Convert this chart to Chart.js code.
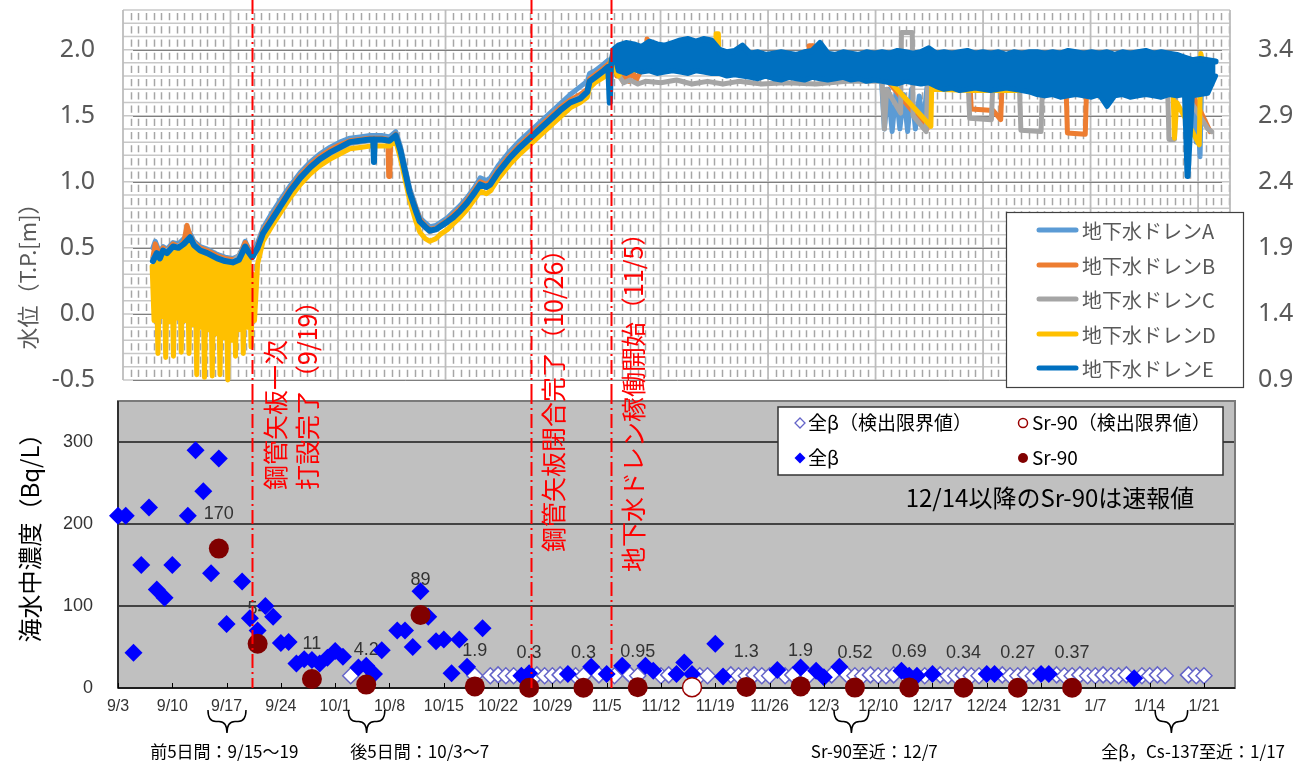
<!DOCTYPE html>
<html lang="ja"><head><meta charset="utf-8"><title>地下水ドレン水位と海水中濃度</title>
<script src="https://cdn.jsdelivr.net/npm/chart.js"></script>
<style>
html,body{margin:0;padding:0;background:#fff;}
#wrap{position:relative;width:1297px;height:766px;overflow:hidden;background:#fff;}
canvas{position:absolute;left:0;}
#cTop{top:0;width:1297px;height:390px;}
#cBot{top:390px;width:1297px;height:376px;}
.ev{position:absolute;color:#ff0000;font-family:"Noto Sans CJK JP",sans-serif;font-size:25px;line-height:25px;white-space:nowrap;transform-origin:0 0;transform:rotate(-90deg);}
</style></head><body>
<div id="wrap">
<canvas id="cTop" width="1297" height="390"></canvas>
<canvas id="cBot" width="1297" height="376"></canvas>
</div>
<script>
// ---------- axis labels ----------
const xTickLabels = ["9/3","9/10","9/17","9/24","10/1","10/8","10/15","10/22","10/29","11/5","11/12","11/19","11/26","12/3","12/10","12/17","12/24","12/31","1/7","1/14","1/21"];
const waterLeftTicks = [-0.5, 0, 0.5, 1.0, 1.5, 2.0];
const waterRightTicks = [0.9, 1.4, 1.9, 2.4, 2.9, 3.4];
const concTicks = [0, 100, 200, 300];

// ---------- water level series (day from 9/3, T.P. m) ----------
const drainNames = ["地下水ドレンA","地下水ドレンB","地下水ドレンC","地下水ドレンD","地下水ドレンE"];
const drainColors = ["#5B9BD5","#ED7D31","#A5A5A5","#FFC000","#0070C0"];

const drainA = [[4.5,0.50],[4.8,0.55],[5.4,0.46],[5.8,0.51],[6.3,0.49],[7.1,0.54],[7.8,0.53],[8.5,0.57],[9.3,0.61],[9.8,0.55],[10.6,0.51],[11.5,0.49],[12.8,0.45],[13.8,0.43],[14.8,0.42],[15.6,0.44],[16.0,0.49],[16.4,0.55],[16.8,0.50],[17.3,0.46],[18.0,0.54],[18.7,0.65],[19.8,0.76],[20.9,0.86],[22.2,0.97],[23.5,1.07],[24.8,1.15],[26.0,1.21],[27.3,1.26],[28.6,1.30],[29.9,1.33],[31.2,1.34],[32.5,1.35],[34.0,1.35],[35.0,1.34],[35.8,1.38],[36.4,1.27],[37.0,1.11],[37.6,0.95],[38.4,0.81],[38.9,0.73],[39.6,0.69],[40.2,0.66],[41.0,0.67],[41.5,0.69],[42.5,0.73],[43.2,0.77],[44.1,0.82],[45.0,0.88],[46.0,0.96],[46.7,1.03],[47.5,1.01],[48.0,1.03],[49.0,1.12],[50.5,1.23],[51.8,1.31],[53.1,1.38],[54.4,1.45],[55.7,1.52],[57.0,1.59],[58.3,1.66],[59.6,1.72],[60.5,1.76],[60.8,1.82],[61.5,1.84],[62.6,1.89],[63.2,1.92],[63.6,1.90],[64.1,1.98],[64.4,2.02],[64.8,1.90],[66,1.86],[70,1.87],[80,1.85],[90,1.84],[98.4,1.80],[98.8,1.40],[99.3,1.70],[99.8,1.38],[100.3,1.68],[100.8,1.40],[101.3,1.66],[101.8,1.38],[102.3,1.70],[102.8,1.40],[103.3,1.65],[103.8,1.42],[104.3,1.72],[104.6,1.82],[115,1.76],[125,1.75],[137.4,1.74],[137.9,1.62],[138.3,1.50],[138.6,1.62],[139.0,1.30],[139.2,1.50],[139.5,1.19],[139.7,1.78],[141.0,1.85]];

const drainB = [[4.5,0.43],[4.8,0.53],[5.4,0.44],[5.8,0.50],[6.3,0.47],[7.1,0.53],[7.8,0.51],[8.5,0.55],[8.9,0.67],[9.3,0.59],[9.8,0.54],[10.6,0.50],[11.5,0.48],[12.8,0.44],[13.8,0.42],[14.8,0.41],[15.6,0.43],[16.0,0.48],[16.4,0.54],[16.8,0.49],[17.3,0.45],[18.0,0.52],[18.7,0.63],[19.8,0.73],[20.9,0.83],[22.2,0.95],[23.5,1.05],[24.8,1.13],[26.0,1.19],[27.3,1.24],[28.6,1.28],[29.9,1.31],[31.2,1.32],[32.5,1.33],[34.0,1.33],[34.8,1.32],[34.9,1.04],[35.05,1.04],[35.15,1.32],[35.8,1.36],[36.4,1.25],[37.0,1.09],[37.6,0.93],[38.4,0.80],[38.9,0.72],[39.6,0.67],[40.2,0.64],[41.0,0.65],[41.5,0.67],[42.5,0.71],[43.2,0.75],[44.1,0.80],[45.0,0.86],[46.0,0.94],[46.7,1.00],[47.5,0.98],[48.0,1.00],[49.0,1.09],[50.5,1.20],[51.8,1.28],[53.1,1.35],[54.4,1.42],[55.7,1.49],[57.0,1.56],[58.3,1.62],[59.6,1.66],[60.5,1.70],[60.8,1.78],[61.5,1.81],[62.6,1.86],[63.2,1.89],[63.9,1.93],[64.3,1.80],[64.7,1.86],[65.1,1.76],[65.5,1.85],[65.9,1.76],[66.3,1.84],[66.8,1.77],[67.5,1.85],[68.1,1.85],[68.2,2.08],[68.4,2.06],[68.5,1.85],[75,1.85],[85,1.84],[89.0,1.84],[89.1,2.03],[89.5,2.03],[89.6,1.84],[98.5,1.82],[99.0,1.78],[104.3,1.40],[104.5,1.80],[109.8,1.78],[110.0,1.55],[112.8,1.54],[113.8,1.47],[114.0,1.78],[122.2,1.76],[122.4,1.37],[124.7,1.36],[124.9,1.76],[137.9,1.74],[140.8,1.38]];

const drainC = [[4.5,0.42],[5.8,0.47],[7.1,0.50],[8.5,0.53],[9.3,0.57],[10.6,0.48],[12.8,0.42],[14.8,0.39],[16.4,0.50],[17.3,0.43],[18.7,0.60],[20.9,0.80],[23.5,1.02],[26.0,1.16],[29.9,1.29],[32.5,1.31],[35.0,1.31],[35.8,1.34],[37.6,0.91],[38.9,0.69],[40.2,0.62],[42.5,0.69],[44.1,0.77],[46.7,0.97],[48.0,0.97],[50.5,1.17],[53.1,1.32],[55.7,1.46],[58.3,1.60],[60.5,1.67],[60.8,1.75],[62.6,1.84],[63.6,1.88],[64.2,1.95],[64.6,1.80],[65.2,1.75],[66,1.77],[67,1.74],[68,1.76],[70,1.75],[72,1.77],[74,1.74],[76,1.76],[78,1.74],[80,1.76],[83,1.74],[86,1.75],[90,1.74],[94,1.76],[98.5,1.76],[98.8,1.40],[99.1,1.70],[100.9,1.52],[101.0,2.13],[102.4,2.13],[102.5,1.50],[104.2,1.38],[104.4,1.76],[109.6,1.76],[109.8,1.48],[112.6,1.47],[112.8,1.76],[116.2,1.75],[116.4,1.39],[119.0,1.38],[119.2,1.75],[135.3,1.74],[135.5,1.32],[136.2,1.32],[136.4,1.72],[137.5,1.68],[140.5,1.40],[141.0,1.38]];

const drainD = [[4.4,0.36],[4.65,-0.05],[4.9,0.40],[5.15,-0.30],[5.4,0.42],[5.65,-0.02],[5.9,0.45],[6.15,-0.33],[6.4,0.44],[6.65,-0.06],[6.9,0.46],[7.15,-0.32],[7.4,0.47],[7.65,-0.03],[7.9,0.48],[8.15,-0.29],[8.4,0.50],[8.65,-0.05],[8.9,0.52],[9.15,-0.30],[9.4,0.54],[9.65,-0.08],[9.9,0.49],[10.15,-0.46],[10.4,0.46],[10.65,-0.10],[10.9,0.44],[11.15,-0.48],[11.4,0.43],[11.65,-0.12],[11.9,0.42],[12.15,-0.47],[12.4,0.41],[12.65,-0.15],[12.9,0.40],[13.15,-0.46],[13.4,0.39],[13.65,-0.18],[13.9,0.38],[14.15,-0.50],[14.4,0.37],[14.65,-0.20],[14.9,0.37],[15.15,-0.32],[15.4,0.38],[15.65,-0.12],[15.9,0.43],[16.15,-0.30],[16.4,0.47],[16.65,-0.10],[16.9,0.44],[17.15,-0.25],[17.4,0.30],[17.6,-0.05],[18.0,0.38],[18.7,0.55],[19.8,0.66],[20.9,0.76],[22.2,0.88],[23.5,0.98],[24.8,1.06],[26.0,1.12],[27.3,1.17],[28.6,1.21],[29.9,1.25],[31.2,1.26],[32.5,1.27],[34.0,1.27],[35.0,1.27],[35.8,1.31],[36.4,1.18],[37.0,1.02],[37.6,0.86],[38.4,0.70],[38.9,0.62],[39.6,0.57],[40.2,0.55],[41.0,0.57],[41.5,0.60],[42.5,0.64],[43.2,0.68],[44.1,0.73],[45.0,0.79],[46.0,0.87],[46.7,0.93],[47.5,0.91],[48.0,0.93],[49.0,1.02],[50.5,1.13],[51.8,1.21],[53.1,1.28],[54.4,1.35],[55.7,1.42],[57.0,1.49],[58.3,1.56],[59.6,1.60],[60.5,1.64],[60.8,1.71],[61.5,1.75],[62.6,1.79],[63.2,1.82],[63.6,1.93],[64.0,1.85],[64.5,1.80],[65,1.84],[70,1.85],[77.0,1.85],[77.1,2.12],[77.4,2.12],[77.5,1.85],[90,1.84],[98.8,1.80],[99.2,1.78],[104.8,1.42],[105.0,1.99],[105.2,1.70],[110,1.69],[117,1.69],[130,1.70],[136.0,1.72],[136.2,1.33],[136.5,1.60],[139.4,1.28],[139.6,1.97],[140.2,1.80],[141.0,1.85]];

const drainEEarly = [[4.5,0.40],[5.0,0.46],[5.4,0.42],[5.8,0.48],[6.3,0.46],[7.1,0.51],[7.8,0.50],[8.5,0.53],[9.3,0.58],[9.8,0.52],[10.6,0.48],[11.5,0.46],[12.8,0.42],[13.8,0.40],[14.8,0.39],[15.6,0.41],[16.0,0.46],[16.4,0.51],[16.8,0.47],[17.3,0.43],[18.0,0.50],[18.7,0.61],[19.8,0.71],[20.9,0.81],[22.2,0.93],[23.5,1.03],[24.8,1.11],[26.0,1.17],[27.3,1.22],[28.6,1.26],[29.9,1.30],[31.2,1.31],[32.5,1.32],[32.9,1.32],[33.0,1.15],[33.1,1.32],[34.0,1.32],[35.0,1.31],[35.8,1.35],[36.4,1.24],[37.0,1.08],[37.6,0.92],[38.4,0.78],[38.9,0.70],[39.6,0.66],[40.2,0.63],[41.0,0.64],[41.5,0.66],[42.5,0.70],[43.2,0.73],[44.1,0.78],[45.0,0.84],[46.0,0.92],[46.7,0.98],[47.5,0.96],[48.0,0.98],[49.0,1.07],[50.5,1.18],[51.8,1.26],[53.1,1.33],[54.4,1.40],[55.7,1.47],[57.0,1.54],[58.3,1.60],[59.6,1.63],[60.5,1.68],[60.8,1.76],[61.5,1.79],[62.6,1.84],[63.2,1.87],[63.4,1.60],[63.55,1.88],[63.9,2.00]];
const E_BAND_START = 64;
const drainEBandHigh = [2.03,2.05,2.04,2.02,2.06,2.04,2.03,2.05, 2.07,2.08,2.06,2.08,2.07, 2.00,1.98,1.99,2.03, 1.97,1.98,1.96,1.97,1.98,1.97,1.96,1.98,1.99,2.05,1.97,1.96,1.98,1.97,1.96,1.98,1.97, 1.98,1.97,1.99,1.98,1.97,1.98,2.01,1.97, 1.98,1.97,1.98,1.99,1.97,1.98,1.97,1.98,1.96,1.98,1.97,1.98, 1.98,1.97,1.98,1.97,1.99,1.98,1.97,1.98,1.97,1.98,1.96,1.98,1.97,1.98,1.99,1.97,1.98,1.97,1.96, 1.94,1.92,1.93,1.92,1.91];
const drainEBandLow = [1.84,1.82,1.85,1.83,1.84,1.82,1.83,1.84, 1.83,1.82,1.84,1.83,1.82, 1.82,1.80,1.81,1.80, 1.79,1.78,1.80,1.78,1.77,1.79,1.78,1.77,1.79,1.78,1.77,1.78,1.79,1.77,1.78,1.76,1.77, 1.76,1.75,1.74,1.76,1.75,1.74,1.75,1.72, 1.70,1.71,1.69,1.70,1.71,1.70,1.69,1.70,1.71,1.70,1.69,1.68, 1.66,1.65,1.66,1.64,1.65,1.66,1.65,1.64,1.66,1.57,1.65,1.66,1.64,1.65,1.66,1.65,1.64,1.66,1.65, 1.66,1.65,1.66,1.67,1.80];
const drainESpike = [[137.82,1.04],[137.95,1.04]];

// ---------- seawater concentration (day from 9/3, Bq/L) ----------
const betaDays = [0,1,2,3,4,5,6,7,9,10,11,12,13,14,16,17,18,19,20,21,22,23,24,25,26,27,28,29,31,32,33,34,36,37,38,39,40,41,42,43,44,45,47,52,53,58,61,63,65,68,69,72,73,74,77,78,85,88,90,91,93,101,102,103,105,112,113,119,120,131];
const betaVals = [210,210,43,150,220,120,110,150,210,290,240,140,280,78,130,85,70,100,87,55,56,30,35,34,30,37,45,38,25,27,17,46,70,70,50,118,87,57,59,18,59,26,73,15,18,17,26,17,27,27,21,17,31,17,54,14,22,25,21,13,26,21,15,15,17,17,17,17,17,12];
const betaNdDays = [30,46,48,49,50,51,54,55,56,57,59,60,62,64,66,67,70,71,75,76,79,80,81,82,83,84,86,87,89,92,94,95,96,97,98,99,100,104,106,107,108,109,110,111,114,115,116,117,118,121,122,123,124,125,126,127,128,129,130,132,133,134,135,138,139,140];
const betaNdVals = [15,15,15,16,15,15,16,15,15,16,15,15,16,15,16,15,15,16,15,15,16,15,15,16,15,15,15,16,15,16,16,15,15,16,15,15,16,15,16,15,15,16,15,15,16,15,15,16,15,16,15,15,16,15,15,16,15,15,16,15,15,16,15,16,15,15];
const srDays = [13,18,25,32,39,46,53,60,67,81,88,95,102,109,116,123];
const srVals = [170,54,11,4.2,89,1.9,0.3,0.3,0.95,1.3,1.9,0.52,0.69,0.34,0.27,0.37];
const srLabels = ["170","54","11","4.2","89","1.9","0.3","0.3","0.95","1.3","1.9","0.52","0.69","0.34","0.27","0.37"];
const srNdDays = [74];
const srNdVals = [1];

// ---------- annotations ----------
const eventDays = [17.3, 53.2, 63.5];
const eventTexts = [["鋼管矢板一次","打設完了（9/19）"],["鋼管矢板閉合完了（10/26）"],["地下水ドレン稼働開始（11/5）"]];
const eventTextBottom = [490, 552, 572];
const braceRanges = [[11.6,16.5],[29.7,34.4],[92.3,96.8],[133.7,137.9]];
const braceLabels = ["前5日間：9/15～19","後5日間：10/3～7","Sr-90至近：12/7","全β，Cs-137至近：1/17"];
const braceLabelDays = [13.7, 38.9, 97.5, 138.6];
const noteText = "12/14以降のSr-90は速報値";

// ---------- layout constants ----------
const X_MIN = 0, X_MAX = 144;
const X_TOP_MIN = 0.645, X_TOP_MAX = 143.36;
const GRID_MAJOR = 13.86;
const CJK = '"Noto Sans CJK JP", "Noto Sans", sans-serif';
const LAT = '"Liberation Sans", Arial, sans-serif';

function pts(arr){ return arr.map(p => ({x:p[0], y:p[1]})); }
// E: upper envelope continues the early line; lower envelope closes the noisy band
const eUpper = pts(drainEEarly);
drainEBandHigh.forEach((h, i) => eUpper.push({x:E_BAND_START + i + 0.5, y:h}));
const eLower = [{x:63.9, y:1.98}];
drainEBandLow.forEach((l, i) => eLower.push({x:E_BAND_START + i + 0.5, y:l}));
drainESpike.forEach(p => eLower.push({x:p[0], y:p[1]}));
eLower.sort((a, b) => a.x - b.x);

function noPad(s){ s.paddingTop = 0; s.paddingBottom = 0; s.paddingLeft = 0; s.paddingRight = 0; }

function redLine(ctx, px, y0, y1){
  ctx.save();
  ctx.strokeStyle = '#FF0000'; ctx.lineWidth = 2;
  ctx.setLineDash([14,4,2,4]);
  ctx.beginPath(); ctx.moveTo(px, y0); ctx.lineTo(px, y1); ctx.stroke();
  ctx.restore();
}

const topDeco = {
  id:'topDeco',
  beforeDatasetsDraw(c){
    const {ctx, chartArea:a, scales:{x, y}} = c;
    ctx.save();
    const rowPx = y.getPixelForValue(0) - y.getPixelForValue(0.1);
    ctx.strokeStyle = '#A6A6A6'; ctx.lineWidth = 1.5;
    ctx.setLineDash([rowPx - 6, 6]); ctx.lineDashOffset = -3;
    for (let k = 0; ; k++){
      const d = x.min + k*GRID_MAJOR/14;
      if (d > x.max) break;
      if (k % 14 === 0) continue;
      const px = Math.round(x.getPixelForValue(d)) + 0.5;
      ctx.beginPath(); ctx.moveTo(px, a.top); ctx.lineTo(px, a.bottom); ctx.stroke();
    }
    ctx.setLineDash([]);
    ctx.strokeStyle = '#C8C8C8'; ctx.lineWidth = 1.5;
    for (let i = 0; i <= 28; i++){
      const py = y.getPixelForValue(-0.5 + i*0.1);
      ctx.beginPath(); ctx.moveTo(a.left, py); ctx.lineTo(a.right, py); ctx.stroke();
    }
    ctx.strokeStyle = '#BDBDBD'; ctx.lineWidth = 1.8;
    for (let k = 0; ; k++){
      const d = x.min + k*GRID_MAJOR;
      if (d > x.max) break;
      const px = x.getPixelForValue(d);
      ctx.beginPath(); ctx.moveTo(px, a.top); ctx.lineTo(px, a.bottom); ctx.stroke();
    }
    ctx.beginPath(); ctx.moveTo(a.right, a.top); ctx.lineTo(a.right, a.bottom); ctx.stroke();
    ctx.strokeStyle = '#7F7F7F'; ctx.lineWidth = 1;
    waterLeftTicks.forEach(v => {
      const py = Math.round(y.getPixelForValue(v)) + 0.5;
      ctx.beginPath(); ctx.moveTo(a.left + 10, py); ctx.lineTo(a.right - 8, py); ctx.stroke();
    });
    ctx.restore();
  },
  afterDraw(c){
    const {ctx, scales:{x}} = c;
    ctx.save();
    ctx.fillStyle = '#595959'; ctx.font = '22px ' + CJK;
    ctx.textAlign = 'center'; ctx.textBaseline = 'middle';
    ctx.translate(28, 271); ctx.rotate(-Math.PI/2);
    ctx.fillText('水位（T.P.[m]）', 0, 0);
    ctx.restore();
    ctx.save();
    ctx.fillStyle = '#fff'; ctx.fillRect(1006, 212, 237, 175);
    ctx.strokeStyle = '#404040'; ctx.lineWidth = 1.2; ctx.strokeRect(1006.5, 212.5, 237, 175);
    const rows = [230, 265, 299, 334, 368];
    ctx.font = '20px ' + CJK; ctx.textAlign = 'left'; ctx.textBaseline = 'middle';
    drainNames.forEach((n, i) => {
      ctx.strokeStyle = drainColors[i]; ctx.lineWidth = 5; ctx.lineCap = 'round';
      ctx.beginPath(); ctx.moveTo(1039, rows[i]); ctx.lineTo(1076, rows[i]); ctx.stroke();
      ctx.fillStyle = '#595959'; ctx.fillText(n, 1082, rows[i] + 1);
    });
    ctx.restore();
    eventDays.forEach(d => redLine(ctx, Math.round(x.getPixelForValue(d)) + 0.5, 0, c.height));
  }
};

function lineDs(label, data, color, width, order, extra){
  return Object.assign({label, data, borderColor:color, backgroundColor:color, borderWidth:width, pointRadius:0,
    tension:0, fill:false, borderCapStyle:'round', borderJoinStyle:'round', clip:false, order}, extra || {});
}

const topChart = new Chart(document.getElementById('cTop'), {
  type:'line',
  data:{ datasets:[
    lineDs(drainNames[0], pts(drainA), drainColors[0], 5, 4),
    lineDs(drainNames[1], pts(drainB), drainColors[1], 5, 3),
    lineDs(drainNames[2], pts(drainC), drainColors[2], 5, 2),
    lineDs(drainNames[3], pts(drainD), drainColors[3], 5, 1),
    lineDs(drainNames[4], eUpper, drainColors[4], 6, 0),
    lineDs(drainNames[4] + ' (low)', eLower, drainColors[4], 5, 0.5, {fill:'-1', backgroundColor:drainColors[4]})
  ]},
  options:{
    responsive:false, animation:false, events:[],
    layout:{padding:{top:10, left:0, right:0, bottom:0}},
    plugins:{legend:{display:false}, tooltip:{enabled:false}, filler:{propagate:false}},
    scales:{
      x:{type:'linear', min:X_TOP_MIN, max:X_TOP_MAX, grid:{display:false}, border:{display:false}, ticks:{display:false},
         afterFit(s){ s.height = 10; noPad(s); }},
      y:{type:'linear', position:'left', min:-0.5, max:2.3, grid:{display:false, drawTicks:false}, border:{display:false},
         afterBuildTicks(s){ s.ticks = waterLeftTicks.map(v => ({value:v})); },
         afterFit(s){ s.width = 123; noPad(s); },
         ticks:{padding:28, color:'#595959', font:{family:'"Noto Sans", sans-serif', size:25}, callback:v => Number(v).toFixed(1)}},
      yR:{type:'linear', position:'right', min:0.9, max:3.7, grid:{display:false, drawTicks:false}, border:{display:false},
         afterBuildTicks(s){ s.ticks = waterRightTicks.map(v => ({value:v})); },
         afterFit(s){ s.width = 67; noPad(s); },
         ticks:{padding:28, color:'#595959', font:{family:'"Noto Sans", sans-serif', size:25}, callback:v => Number(v).toFixed(1)}}
    }
  },
  plugins:[topDeco]
});

function diamond(ctx, x, y, r){ ctx.beginPath(); ctx.moveTo(x, y-r); ctx.lineTo(x+r, y); ctx.lineTo(x, y+r); ctx.lineTo(x-r, y); ctx.closePath(); }
function brace(ctx, x1, x2, top, h){
  const mid = (x1 + x2)/2, ym = top + h*0.5, r = Math.min(8, (x2 - x1)/4);
  ctx.beginPath();
  ctx.moveTo(x1, top);
  ctx.quadraticCurveTo(x1, ym, x1 + r, ym);
  ctx.lineTo(mid - r, ym);
  ctx.quadraticCurveTo(mid, ym, mid, top + h);
  ctx.quadraticCurveTo(mid, ym, mid + r, ym);
  ctx.lineTo(x2 - r, ym);
  ctx.quadraticCurveTo(x2, ym, x2, top);
  ctx.stroke();
}

const botDeco = {
  id:'botDeco',
  beforeDatasetsDraw(c){
    const {ctx, chartArea:a, scales:{x, y}} = c;
    ctx.save();
    ctx.fillStyle = '#C0C0C0'; ctx.fillRect(a.left, a.top, a.right - a.left, a.bottom - a.top);
    ctx.strokeStyle = '#1a1a1a'; ctx.lineWidth = 1.5;
    concTicks.slice(1).forEach(v => {
      const py = y.getPixelForValue(v);
      ctx.beginPath(); ctx.moveTo(a.left, py); ctx.lineTo(a.right, py); ctx.stroke();
    });
    ctx.strokeStyle = '#7a7a7a'; ctx.lineWidth = 2;
    ctx.strokeRect(a.left, a.top, a.right - a.left, a.bottom - a.top);
    ctx.strokeStyle = '#303030'; ctx.lineWidth = 2;
    ctx.beginPath(); ctx.moveTo(a.left, a.top); ctx.lineTo(a.left, a.bottom); ctx.stroke();
    ctx.strokeStyle = '#000'; ctx.lineWidth = 1.5;
    ctx.beginPath(); ctx.moveTo(a.left, a.bottom); ctx.lineTo(a.right, a.bottom); ctx.stroke();
    ctx.fillStyle = '#333'; ctx.font = '18px ' + LAT; ctx.textAlign = 'center'; ctx.textBaseline = 'middle';
    srDays.forEach((d, i) => ctx.fillText(srLabels[i], x.getPixelForValue(d), y.getPixelForValue(srVals[i]) - 35));
    ctx.restore();
  },
  afterDatasetsDraw(c){
    const {ctx, chartArea:a, scales:{x}} = c;
    ctx.save();
    ctx.strokeStyle = '#000'; ctx.lineWidth = 1;
    xTickLabels.forEach((_, i) => {
      const px = Math.round(x.getPixelForValue(i*7)) + 0.5;
      ctx.beginPath(); ctx.moveTo(px, a.bottom - 5); ctx.lineTo(px, a.bottom); ctx.stroke();
    });
    ctx.restore();
    eventDays.forEach(d => redLine(ctx, Math.round(x.getPixelForValue(d)) + 0.5, 0, a.bottom));
  },
  afterDraw(c){
    const {ctx, scales:{x}} = c;
    ctx.save();
    ctx.save();
    ctx.fillStyle = '#000'; ctx.font = '24px ' + CJK; ctx.textAlign = 'center'; ctx.textBaseline = 'middle';
    ctx.translate(30, 142); ctx.rotate(-Math.PI/2); ctx.fillText('海水中濃度（Bq/L）', 0, 0);
    ctx.restore();
    ctx.fillStyle = '#fff'; ctx.fillRect(778, 17, 445, 68);
    ctx.strokeStyle = '#333'; ctx.lineWidth = 1.5; ctx.strokeRect(778, 17, 445, 68);
    ctx.font = '19px ' + CJK; ctx.textAlign = 'left'; ctx.textBaseline = 'middle';
    diamond(ctx, 800, 33, 5); ctx.fillStyle = '#fff'; ctx.fill(); ctx.strokeStyle = '#6464C8'; ctx.lineWidth = 1.3; ctx.stroke();
    ctx.fillStyle = '#000'; ctx.fillText('全β（検出限界値）', 808, 33);
    diamond(ctx, 800, 68, 5.5); ctx.fillStyle = '#0000FF'; ctx.fill();
    ctx.fillStyle = '#000'; ctx.fillText('全β', 808, 68);
    ctx.beginPath(); ctx.arc(1023, 33, 4.5, 0, Math.PI*2); ctx.fillStyle = '#fff'; ctx.fill(); ctx.strokeStyle = '#990000'; ctx.lineWidth = 1.5; ctx.stroke();
    ctx.fillStyle = '#000'; ctx.fillText('Sr-90（検出限界値）', 1032, 33);
    ctx.beginPath(); ctx.arc(1023, 68, 5, 0, Math.PI*2); ctx.fillStyle = '#800000'; ctx.fill();
    ctx.fillStyle = '#000'; ctx.fillText('Sr-90', 1032, 68);
    ctx.font = '24px ' + CJK; ctx.textAlign = 'center';
    ctx.fillText(noteText, 1050, 108);
    ctx.strokeStyle = '#000'; ctx.lineWidth = 1.5;
    braceRanges.forEach(r => brace(ctx, x.getPixelForValue(r[0]), x.getPixelForValue(r[1]), 320, 23));
    ctx.font = '17px ' + CJK; ctx.fillStyle = '#000'; ctx.textAlign = 'center'; ctx.textBaseline = 'middle';
    braceLabels.forEach((t, i) => {
      let cx = x.getPixelForValue(braceLabelDays[i]);
      const w = ctx.measureText(t).width;
      if (cx + w/2 > c.width - 3) cx = c.width - 3 - w/2;
      ctx.fillText(t, cx, 362);
    });
    ctx.restore();
  }
};

const botChart = new Chart(document.getElementById('cBot'), {
  type:'scatter',
  data:{ datasets:[
    {label:'全β（検出限界値）', data: betaNdDays.map((d, i) => ({x:d, y:betaNdVals[i]})), pointStyle:'rectRot', pointRadius:8,
     pointBackgroundColor:'#ffffff', pointBorderColor:'#6464C8', pointBorderWidth:1.5, clip:false, order:3},
    {label:'全β', data: betaDays.map((d, i) => ({x:d, y:betaVals[i]})), pointStyle:'rectRot', pointRadius:9,
     pointBackgroundColor:'#0000FF', pointBorderColor:'#0000FF', pointBorderWidth:0, clip:false, order:2},
    {label:'Sr-90（検出限界値）', data: srNdDays.map((d, i) => ({x:d, y:srNdVals[i]})), pointStyle:'circle', pointRadius:9.5,
     pointBackgroundColor:'#ffffff', pointBorderColor:'#990000', pointBorderWidth:1.5, clip:false, order:1},
    {label:'Sr-90', data: srDays.map((d, i) => ({x:d, y:srVals[i]})), pointStyle:'circle', pointRadius:10,
     pointBackgroundColor:'#800000', pointBorderColor:'#800000', pointBorderWidth:0, clip:false, order:0}
  ]},
  options:{
    responsive:false, animation:false, events:[],
    layout:{padding:{top:5, left:0, right:62, bottom:0}},
    plugins:{legend:{display:false}, tooltip:{enabled:false}},
    scales:{
      x:{type:'linear', min:X_MIN, max:X_MAX, grid:{display:false, drawTicks:false}, border:{display:false},
         afterBuildTicks(s){ s.ticks = xTickLabels.map((_, i) => ({value:i*7})); },
         afterFit(s){ s.height = 78; noPad(s); },
         ticks:{autoSkip:false, maxRotation:0, padding:9, color:'#333', font:{family:LAT, size:16}, callback:(v, i) => xTickLabels[i]}},
      y:{type:'linear', min:0, max:350, grid:{display:false, drawTicks:false}, border:{display:false},
         afterBuildTicks(s){ s.ticks = concTicks.map(v => ({value:v})); },
         afterFit(s){ s.width = 118; noPad(s); },
         ticks:{padding:25, color:'#333', font:{family:LAT, size:18}}}
    }
  },
  plugins:[botDeco]
});

const wrap = document.getElementById('wrap');
eventDays.forEach((d, i) => {
  const lx = botChart.scales.x.getPixelForValue(d);
  eventTexts[i].forEach((t, j) => {
    const el = document.createElement('div');
    el.className = 'ev';
    el.textContent = t;
    el.style.left = (lx + 22 + j*32 - 12.5) + 'px';
    el.style.top = eventTextBottom[i] + 'px';
    wrap.appendChild(el);
  });
});
</script>
</body></html>
